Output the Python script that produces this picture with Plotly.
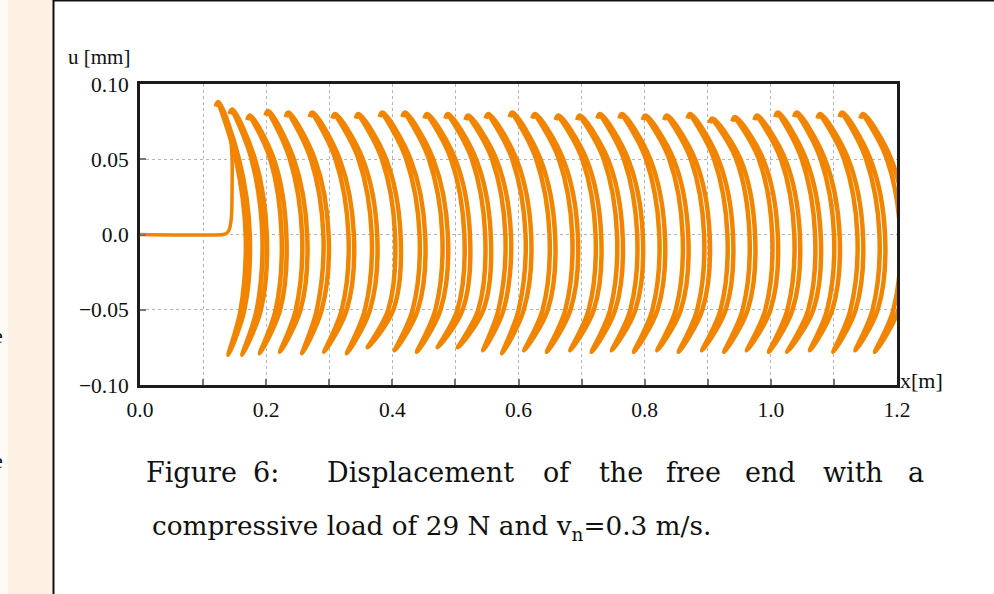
import plotly.graph_objects as go

# ---- data ----
# flat start then the rise into the first arc
start_x = [0.0, 0.132, 0.138, 0.142, 0.145, 0.146, 0.146, 0.144, 0.140]
start_u = [0.0, 0.0, 0.001, 0.004, 0.012, 0.030, 0.050, 0.062, 0.071]

# each arc: top end, bottom end
arc_top_x = [0.124, 0.146, 0.174, 0.203, 0.235, 0.273, 0.309, 0.346, 0.384, 0.420,
             0.455, 0.488, 0.520, 0.552, 0.590, 0.626, 0.663, 0.697, 0.729, 0.764,
             0.801, 0.835, 0.872, 0.907, 0.943, 0.978, 1.011, 1.041, 1.078, 1.113, 1.146]
arc_top_u = [0.088, 0.083, 0.079, 0.082, 0.081, 0.081, 0.080, 0.080, 0.081, 0.081,
             0.080, 0.080, 0.079, 0.080, 0.081, 0.080, 0.079, 0.079, 0.080, 0.080,
             0.079, 0.079, 0.080, 0.077, 0.078, 0.079, 0.081, 0.081, 0.080, 0.081, 0.080]
arc_bot_x = [0.140, 0.162, 0.190, 0.222, 0.257, 0.292, 0.328, 0.361, 0.404, 0.439,
             0.472, 0.504, 0.544, 0.574, 0.609, 0.645, 0.682, 0.716, 0.748, 0.783,
             0.820, 0.854, 0.891, 0.926, 0.962, 0.997, 1.026, 1.062, 1.099, 1.134, 1.165]
arc_bot_u = [-0.080, -0.080, -0.079, -0.078, -0.079, -0.078, -0.079, -0.075, -0.077, -0.078,
             -0.075, -0.075, -0.077, -0.079, -0.077, -0.078, -0.077, -0.078, -0.077, -0.078,
             -0.077, -0.078, -0.077, -0.078, -0.077, -0.078, -0.078, -0.077, -0.078, -0.077, -0.078]
# horizontal reach of each arc at u = 0 (outer stroke), measured from its top
arc_reach = [0.050, 0.055, 0.058, 0.062, 0.064, 0.066, 0.067, 0.067, 0.068, 0.068,
             0.068, 0.068, 0.068, 0.068, 0.068, 0.068, 0.068, 0.068, 0.068, 0.068,
             0.068, 0.068, 0.068, 0.068, 0.068, 0.068, 0.068, 0.068, 0.068, 0.068, 0.068]

# shape of an arc (fraction of its reach) at u = 0.05, 0, -0.05 for outer / inner strokes
levels_u = [0.05, 0.0, -0.05]
outer_frac = [0.66, 1.00, 0.83]
inner_frac = [0.56, 0.87, 0.71]
# small hook at the top end of each arc (offset from the top point)
hook_dx, hook_du = -0.004, -0.003

y_ticks = [-0.10, -0.05, 0.0, 0.05, 0.10]
y_labels = ["\u22120.10", "\u22120.05", "0.0", "0.05", "0.10"]
x_ticks = [0.0, 0.2, 0.4, 0.6, 0.8, 1.0, 1.2]
x_labels = ["0.0", "0.2", "0.4", "0.6", "0.8", "1.0", "1.2"]

ORANGE = "#F18400"

fig = go.Figure()
fig.add_trace(go.Scatter(x=start_x, y=start_u, mode="lines",
                         line=dict(color=ORANGE, width=3.5, shape="spline", smoothing=0.6),
                         showlegend=False, hoverinfo="skip"))

xs, us = [], []
for tx, tu, bx, bu, r in zip(arc_top_x, arc_top_u, arc_bot_x, arc_bot_u, arc_reach):
    px_ = ([tx + hook_dx, tx] + [tx + f * r for f in outer_frac] + [bx]
           + [tx + f * r for f in inner_frac[::-1]] + [tx])
    pu_ = [tu + hook_du, tu] + levels_u + [bu] + levels_u[::-1] + [tu]
    xs += px_ + [None]
    us += pu_ + [None]
fig.add_trace(go.Scatter(x=xs, y=us, mode="lines",
                         line=dict(color=ORANGE, width=4.5, shape="spline", smoothing=1.0),
                         connectgaps=False, showlegend=False, hoverinfo="skip"))

TICKFONT = "Liberation Serif"
CAPFONT = "DejaVu Serif"
grid = dict(showgrid=True, gridcolor="#b5b5b5", griddash="dot", gridwidth=1)
axis_common = dict(showline=True, mirror=True, linewidth=3, linecolor="#1c1c1c",
                   zeroline=False, ticks="inside", ticklen=6, tickwidth=1.5, tickcolor="#777777",
                   tickfont=dict(family=TICKFONT, size=21.5, color="#111111"), **grid)
fig.update_xaxes(range=[0, 1.2], tickvals=x_ticks, ticktext=x_labels, ticklabelstandoff=3,
                 minor=dict(dtick=0.1, tick0=0, ticks="inside", ticklen=6, tickwidth=1.5,
                            tickcolor="#777777", **grid),
                 **axis_common)
fig.update_yaxes(range=[-0.1, 0.1], tickvals=y_ticks, ticktext=y_labels, ticklabelstandoff=4,
                 **axis_common)

L, T, W, H = 140, 84, 757, 301
def px(x):
    return (x - L) / W
def py(y):
    return (T + H - y) / H

shapes = [
    dict(type="rect", xref="paper", yref="paper", x0=px(0), x1=px(8), y0=py(594), y1=py(0),
         fillcolor="#FEFAF4", line=dict(width=0), layer="below"),
    dict(type="rect", xref="paper", yref="paper", x0=px(8), x1=px(53), y0=py(594), y1=py(0),
         fillcolor="#FCF1E2", line=dict(width=0), layer="below"),
    dict(type="line", xref="paper", yref="paper", x0=px(53.5), x1=px(53.5), y0=py(594), y1=py(0),
         line=dict(color="#111111", width=2)),
    dict(type="line", xref="paper", yref="paper", x0=px(53), x1=px(994), y0=py(0.5), y1=py(0.5),
         line=dict(color="#111111", width=2)),
]

ann = []
def text(x, y, s, size, anchor="center", family=TICKFONT):
    ann.append(dict(xref="paper", yref="paper", x=px(x), y=py(y), text=s, showarrow=False,
                    xanchor=anchor, yanchor="middle",
                    font=dict(family=family, size=size, color="#111111")))

text(99, 57, "u [mm]", 21)
text(898, 380, "x[m]", 22, "left")

words = ["Figure", "6:", "Displacement", "of", "the", "free", "end", "with", "a"]
centers = [191, 266, 420, 557, 621, 693, 770, 853, 916]
for w, c in zip(words, centers):
    text(c, 472, w, 27, family=CAPFONT)
text(150, 528, "compressive load of 29 N and v<sub>n</sub>=0.3 m/s.", 26.3, "left", family=CAPFONT)
text(5, 335, "e", 22, "right")
text(5, 460, "e", 22, "right")

fig.update_layout(width=994, height=594, margin=dict(l=L, r=994 - L - W, t=T, b=594 - T - H),
                  paper_bgcolor="white", plot_bgcolor="white", shapes=shapes, annotations=ann,
                  showlegend=False)
fig.write_html("out.html", config={"displayModeBar": False},
               post_script="document.body.style.margin='0px';")
